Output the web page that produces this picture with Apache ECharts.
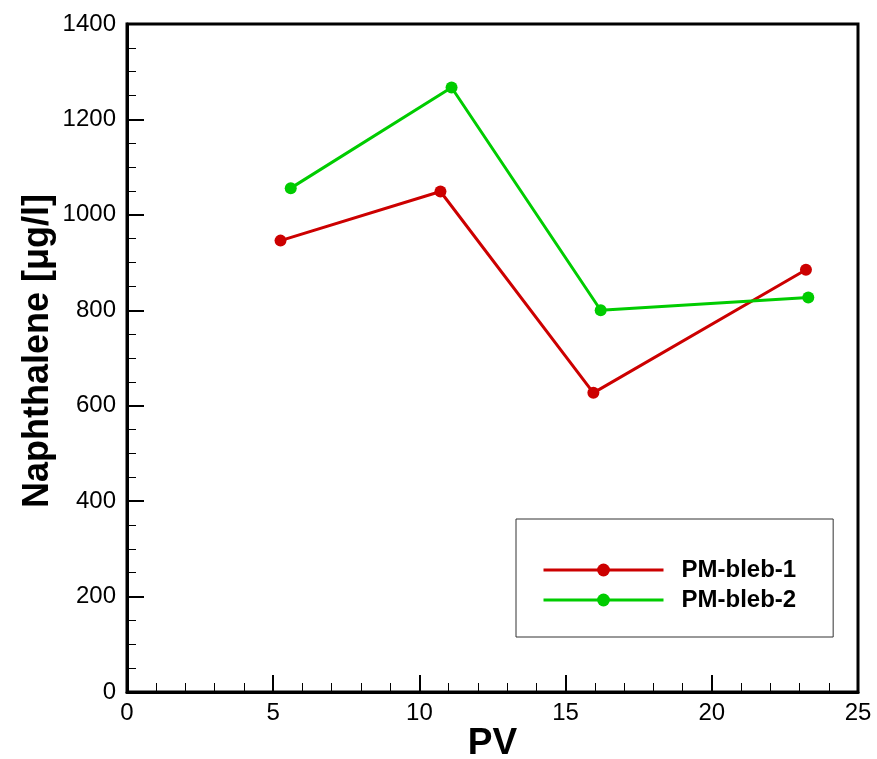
<!DOCTYPE html>
<html><head><meta charset="utf-8">
<script src="https://cdn.jsdelivr.net/npm/echarts@6/dist/echarts.min.js"></script>
<style>html,body{margin:0;padding:0;background:#fff}#c{width:877px;height:759px}</style>
</head><body><div id="c"></div>
<script>
const seriesNames = ['PM-bleb-1', 'PM-bleb-2'];
const pv1 = [5.25, 10.72, 15.95, 23.22];
const naph1 = [946, 1049, 627, 885];
const pv2 = [5.6, 11.1, 16.2, 23.3];
const naph2 = [1056, 1267, 800, 827];
const xTicks = [0, 5, 10, 15, 20, 25];
const yTicks = [0, 200, 400, 600, 800, 1000, 1200, 1400];

const font = 'Liberation Sans, Arial, sans-serif';
const chart = echarts.init(document.getElementById('c'));
chart.setOption({
  animation: false,
  grid: { left: 127, top: 24, right: 19, bottom: 67, show: true, borderColor: '#000', borderWidth: 3,
          outerBoundsMode: 'none', containLabel: false },
  legend: {
    left: 516, top: 519, orient: 'vertical',
    borderColor: '#333', borderWidth: 1,
    padding: [39, 37, 25, 26],
    itemWidth: 120, itemHeight: 16, itemGap: 6,
    lineStyle: { width: 3 },
    textStyle: { fontFamily: font, fontSize: 24, fontWeight: 'bold', color: '#000', lineHeight: 20, padding: [0, 0, 0, 13] },
    data: seriesNames
  },
  xAxis: {
    type: 'value', min: xTicks[0], max: xTicks[xTicks.length - 1], interval: 5,
    name: 'PV', nameLocation: 'middle', nameGap: 33, nameMoveOverlap: false,
    nameTextStyle: { fontFamily: font, fontSize: 37, fontWeight: 'bold', color: '#000' },
    axisLine: { show: true, lineStyle: { color: '#000', width: 3 } },
    axisTick: { inside: true, length: 17, lineStyle: { color: '#000', width: 2 } },
    minorTick: { show: true, splitNumber: 5, length: 9, lineStyle: { color: '#000', width: 1 } },
    splitLine: { show: false },
    axisLabel: { fontFamily: font, fontSize: 24, color: '#000', margin: 9 }
  },
  yAxis: {
    type: 'value', min: yTicks[0], max: yTicks[yTicks.length - 1], interval: 200,
    name: 'Naphthalene [\u03bcg/l]', nameLocation: 'middle', nameGap: 71, nameMoveOverlap: false,
    nameTextStyle: { fontFamily: font, fontSize: 36, fontWeight: 'bold', color: '#000', padding: [0, 0, 0, 14] },
    axisLine: { show: true, lineStyle: { color: '#000', width: 3 } },
    axisTick: { inside: true, length: 17, lineStyle: { color: '#000', width: 2 } },
    minorTick: { show: true, splitNumber: 4, length: 9, lineStyle: { color: '#000', width: 1 } },
    splitLine: { show: false },
    axisLabel: { fontFamily: font, fontSize: 24, color: '#000', margin: 11, formatter: v => String(v) }
  },
  series: [
    { name: seriesNames[0], type: 'line', data: pv1.map((x, i) => [x, naph1[i]]),
      symbol: 'circle', symbolSize: 12, color: '#cc0000', lineStyle: { width: 3, color: '#cc0000' },
      itemStyle: { color: '#cc0000' } },
    { name: seriesNames[1], type: 'line', data: pv2.map((x, i) => [x, naph2[i]]),
      symbol: 'circle', symbolSize: 12, color: '#00cc00', lineStyle: { width: 3, color: '#00cc00' },
      itemStyle: { color: '#00cc00' } }
  ]
});
</script></body></html>
